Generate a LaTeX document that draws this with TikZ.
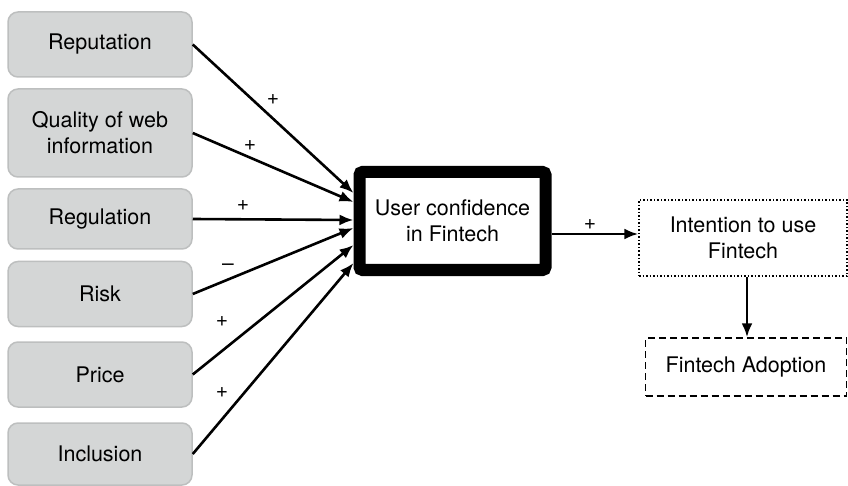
\documentclass[tikz,border=0pt]{standalone}
\usepackage{fontspec}
\setmainfont{TeX Gyre Heros}
\usetikzlibrary{arrows.meta}

\definecolor{boxfill}{HTML}{D4D6D6}
\definecolor{boxline}{HTML}{BDBFBF}

\tikzset{
	factor/.style={rectangle,rounded corners=10pt,draw=boxline,fill=boxfill,line width=1.5pt,minimum width=184pt,align=center,font=\fontsize{21.5}{26}\selectfont},
	stage/.style={rectangle,line width=1.5pt,align=center,font=\fontsize{21.5}{26}\selectfont},
	link/.style={line width=2.6pt,-{Latex[length=14pt,width=11pt]}},
	sign/.style={font=\fontsize{21}{24}\selectfont},
}

\begin{document}
\begin{tikzpicture}[x=1pt,y=-1pt]
	\useasboundingbox (0,0) rectangle (848,486);

	\node[factor,minimum height=65pt](rep) at (100,44.5) {Reputation};
	\node[factor,minimum height=88pt](qual) at (100,133) {Quality of web\\information};
	\node[factor,minimum height=60pt](reg) at (100,219) {Regulation};
	\node[factor,minimum height=65pt](risk) at (100,294) {Risk};
	\node[factor,minimum height=65pt](price) at (100,374.5) {Price};
	\node[factor,minimum height=62pt](incl) at (100,454) {Inclusion};

	\node[stage,draw,line width=12pt,rounded corners=3pt,minimum width=186pt,minimum height=98pt](conf) at (452.5,221) {User confidence\\in Fintech};
	\node[stage,draw,dotted,minimum width=208pt,minimum height=76pt](intent) at (743,238) {Intention to use\\Fintech};
	\node[stage,draw,dash pattern=on 7pt off 4pt,minimum width=201pt,minimum height=58pt](adopt) at (746,367) {Fintech Adoption};

	\node[sign](s1) at (273,100) {+};
	\node[sign](s2) at (250,146) {+};
	\node[sign](s3) at (243,206) {+};
	\node[sign](s4) at (228,267) {--};
	\node[sign](s5) at (222,322) {+};
	\node[sign](s6) at (222,393) {+};
	\node[sign](s7) at (590,225) {+};

	\draw[link] (rep.east) -- ([yshift=28pt]conf.west);
	\draw[link] (qual.east) -- ([yshift=19pt]conf.west);
	\draw[link] (reg.east) -- ([yshift=1pt]conf.west);
	\draw[link] (risk.east) -- ([yshift=-7pt]conf.west);
	\draw[link] (price.east) -- ([yshift=-24pt]conf.west);
	\draw[link] (incl.east) -- ([yshift=-42pt]conf.west);

	\draw[link] ([yshift=-13pt]conf.east) -- ([yshift=-13pt]conf.east -| intent.west);
	\draw[link] ([xshift=4pt]intent.south) -- ([xshift=4pt]intent.south |- adopt.north);
\end{tikzpicture}
\end{document}
